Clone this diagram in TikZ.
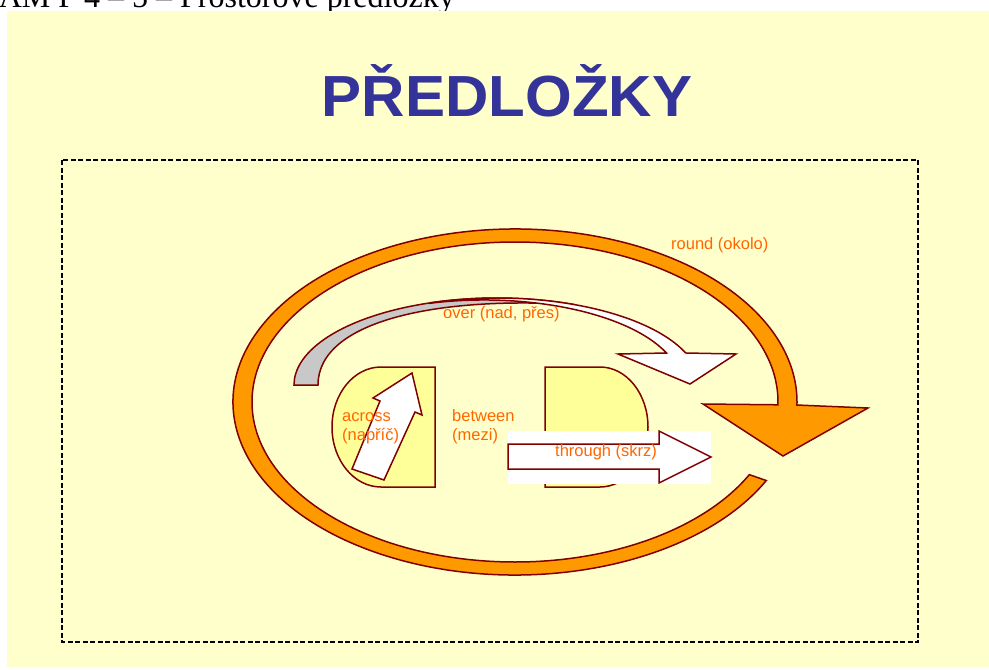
\documentclass[tikz,border=0pt]{standalone}
\usepackage{fontspec}
\setmainfont{Liberation Sans}
\newfontfamily\serifhead{Liberation Serif}

\definecolor{bgyellow}{HTML}{FFFFCC}
\definecolor{boxyellow}{HTML}{FFFF99}
\definecolor{edge}{HTML}{800000}
\definecolor{ringorange}{HTML}{FF9900}
\definecolor{labelorange}{HTML}{FF6600}
\definecolor{titleblue}{HTML}{333399}
\definecolor{shadegray}{HTML}{C8C8C8}

\begin{document}
\begin{tikzpicture}[x=1pt,y=-1pt,
  edgeline/.style={draw=edge, line width=1.5pt, line join=miter},
  tag/.style={text=labelorange, font=\fontsize{16.5}{19}\selectfont, inner sep=0pt, anchor=base west},
]
\useasboundingbox (0,0) rectangle (989,670);
\fill[white] (0,0) rectangle (989,670);

% running header, cut by the page edge
\begin{scope}
  \clip (0,0) rectangle (989,670);
  \node[anchor=base east, inner sep=0pt, font=\serifhead\fontsize{32}{36}\selectfont]
    (runhead) at (455,7) {AM P 4 – 5 – Prostorové předložky};
\end{scope}

% slide background and dashed frame
\fill[bgyellow] (7,11) rectangle (989,667);
\draw[black, line width=1.3pt, dash pattern=on 5pt off 2.5pt] (62,160) rectangle (918,642);

% title
\node[anchor=base, inner sep=0pt, text=titleblue,
      font=\fontsize{58}{60}\selectfont\bfseries] (title) at (507,116)
  {\scalebox{1.035}[1]{PŘEDLOŽKY}};

% "round": circular orange arrow
\draw[edgeline, fill=ringorange]
  (766.27,480.54) arc[start angle=27, end angle=361, x radius=282, y radius=173]
  -- (868,408) -- (783,456) -- (703,404)
  -- (777.96,404.79) arc[start angle=361, end angle=27, x radius=263, y radius=160]
  -- cycle;

% "over": curved arrow, shaded back face then white front face
\draw[edgeline, fill=shadegray]
  (294,385) arc[start angle=180, end angle=292.6, x radius=203, y radius=87]
  .. controls (440,296) and (318,320) .. (318,385) -- cycle;
\draw[edgeline, fill=white]
  (429.9,302.9) arc[start angle=250.7, end angle=338.4, x radius=203, y radius=87]
  -- (736,354) -- (690,384) -- (618,354)
  -- (666.5,353.0) arc[start angle=337.9, end angle=254.1, x radius=197, y radius=85]
  -- cycle;

% the two rounded blocks
\draw[edgeline, fill=boxyellow]
  (435,367) -- (381,367) arc[start angle=270, end angle=90, x radius=49, y radius=60]
  -- (435,487) -- cycle;
\draw[edgeline, fill=boxyellow]
  (545,367) -- (600,367) arc[start angle=270, end angle=450, x radius=48, y radius=60]
  -- (545,487) -- cycle;

% "across": tilted block arrow
\draw[edgeline, fill=white]
  (412,373) -- (422,415) -- (415,412) -- (384,480) -- (352,469) -- (380,401) -- (373,398) -- cycle;

% "through": block arrow on a white patch
\fill[white] (508,431) rectangle (711,484);
\draw[edgeline, fill=white]
  (508,444) -- (659,444) -- (659,431) -- (711,457) -- (659,483) -- (659,469) -- (508,469) -- cycle;

% labels
\node[tag] (roundA) at (671,249) {round (okolo)};
\node[tag] (overA) at (443,318) {over (nad, přes)};
\node[tag] (acrossA) at (342,421) {across};
\node[tag] (acrossB) at (342,440) {(napříč)};
\node[tag] (betweenA) at (452,421) {between};
\node[tag] (betweenB) at (452,440) {(mezi)};
\node[tag] (throughA) at (555,456) {through (skrz)};
\end{tikzpicture}
\end{document}
